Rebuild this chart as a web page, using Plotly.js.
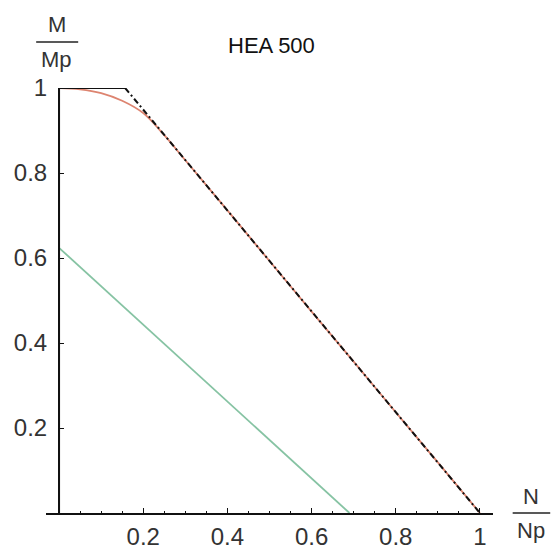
<!DOCTYPE html>
<html>
<head>
<meta charset="utf-8">
<script src="https://cdn.plot.ly/plotly-3.0.1.min.js"></script>
<style>html,body{margin:0;padding:0;background:#fff}#chart{width:552px;height:559px}</style>
</head>
<body>
<div id="chart"></div>
<script>
// Data (N/Np, M/Mp)
const blackSolidN = [0, 0, 0.157];
const blackSolidM = [0, 1, 1];
const blackDashN = [0.157, 1.0];
const blackDashM = [1, 0];
const redN = [0, 0.05, 0.1, 0.15, 0.2, 0.25, 0.3, 0.4, 0.5, 0.6, 0.7, 0.8, 0.9, 1.0];
const redM = [1, 0.997, 0.988, 0.97, 0.941, 0.889, 0.83, 0.712, 0.593, 0.474, 0.356, 0.237, 0.119, 0];
const greenN = [0, 0.69];
const greenM = [0.624, 0];
const xTicks = [0.2, 0.4, 0.6, 0.8, 1];
const xTickText = ['0.2', '0.4', '0.6', '0.8', '1'];
const yTicks = [0.2, 0.4, 0.6, 0.8, 1];
const yTickText = ['0.2', '0.4', '0.6', '0.8', '1'];
const titleText = 'HEA 500';

const font = 'Liberation Sans, Arial, sans-serif';
const traces = [
  {x: greenN, y: greenM, mode: 'lines', line: {color: '#86c3a3', width: 1.8}, cliponaxis: false, hoverinfo: 'skip'},
  {x: redN, y: redM, mode: 'lines', line: {color: '#dd8470', width: 1.8, shape: 'spline'}, cliponaxis: false, hoverinfo: 'skip'},
  {x: blackDashN, y: blackDashM, mode: 'lines', line: {color: '#111', width: 2, dash: '6px,3px,2px,3px'}, cliponaxis: false, hoverinfo: 'skip'},
  {x: blackSolidN, y: blackSolidM, mode: 'lines', line: {color: '#111', width: 2}, cliponaxis: false, hoverinfo: 'skip'}
];
const layout = {
  width: 552, height: 559,
  margin: {l: 46, r: 59, t: 88, b: 46, pad: 0},
  paper_bgcolor: '#fff', plot_bgcolor: '#fff',
  showlegend: false,
  font: {family: font, color: '#333', size: 24},
  xaxis: {
    range: [-0.031, 1.031], showgrid: false, zeroline: false,
    showline: true, linecolor: '#111', linewidth: 2,
    tickvals: xTicks, ticktext: xTickText, ticks: 'inside', ticklen: 5, tickcolor: '#111',
    ticklabelstandoff: 1,
    minor: {tickvals: [0.05,0.1,0.15,0.25,0.3,0.35,0.45,0.5,0.55,0.65,0.7,0.75,0.85,0.9,0.95], ticks: 'inside', ticklen: 2, tickcolor: '#111'},
    tickfont: {family: font, size: 24, color: '#333'}, fixedrange: true
  },
  yaxis: {
    range: [0, 1], showgrid: false, zeroline: false,
    anchor: 'free', position: 0.029, showline: true, linecolor: '#111', linewidth: 2,
    tickvals: yTicks, ticktext: yTickText, ticks: 'inside', ticklen: 4, tickcolor: '#111',
    ticklabelstandoff: 6,
    tickfont: {family: font, size: 24, color: '#333'}, fixedrange: true
  },
  annotations: [
    {text: titleText, xref: 'paper', yref: 'paper', x: 0.505, y: 1, xanchor: 'center', yanchor: 'bottom', showarrow: false, font: {family: font, size: 22, color: '#111'}, yshift: 28},
    {text: 'M', xref: 'paper', yref: 'paper', x: 0.024, y: 1, xanchor: 'center', yanchor: 'middle', showarrow: false, font: {family: font, size: 22, color: '#333'}, yshift: 64},
    {text: 'Mp', xref: 'paper', yref: 'paper', x: 0.024, y: 1, xanchor: 'center', yanchor: 'middle', showarrow: false, font: {family: font, size: 22, color: '#333'}, yshift: 29},
    {text: 'N', xref: 'paper', yref: 'paper', x: 1, xshift: 38, y: 0, yshift: 17, xanchor: 'center', yanchor: 'middle', showarrow: false, font: {family: font, size: 22, color: '#333'}},
    {text: 'Np', xref: 'paper', yref: 'paper', x: 1, xshift: 38, y: 0, yshift: -17, xanchor: 'center', yanchor: 'middle', showarrow: false, font: {family: font, size: 22, color: '#333'}}
  ],
  shapes: [
    {type: 'line', xref: 'paper', yref: 'paper', x0: -0.022, x1: 0.072, y0: 1.108, y1: 1.108, line: {color: '#222', width: 1.5}},
    {type: 'line', xref: 'paper', yref: 'paper', x0: 1.044, x1: 1.128, y0: 0.0, y1: 0.0, line: {color: '#222', width: 1.5}}
  ]
};
Plotly.newPlot('chart', traces, layout, {staticPlot: true, displayModeBar: false});
</script>
</body>
</html>
